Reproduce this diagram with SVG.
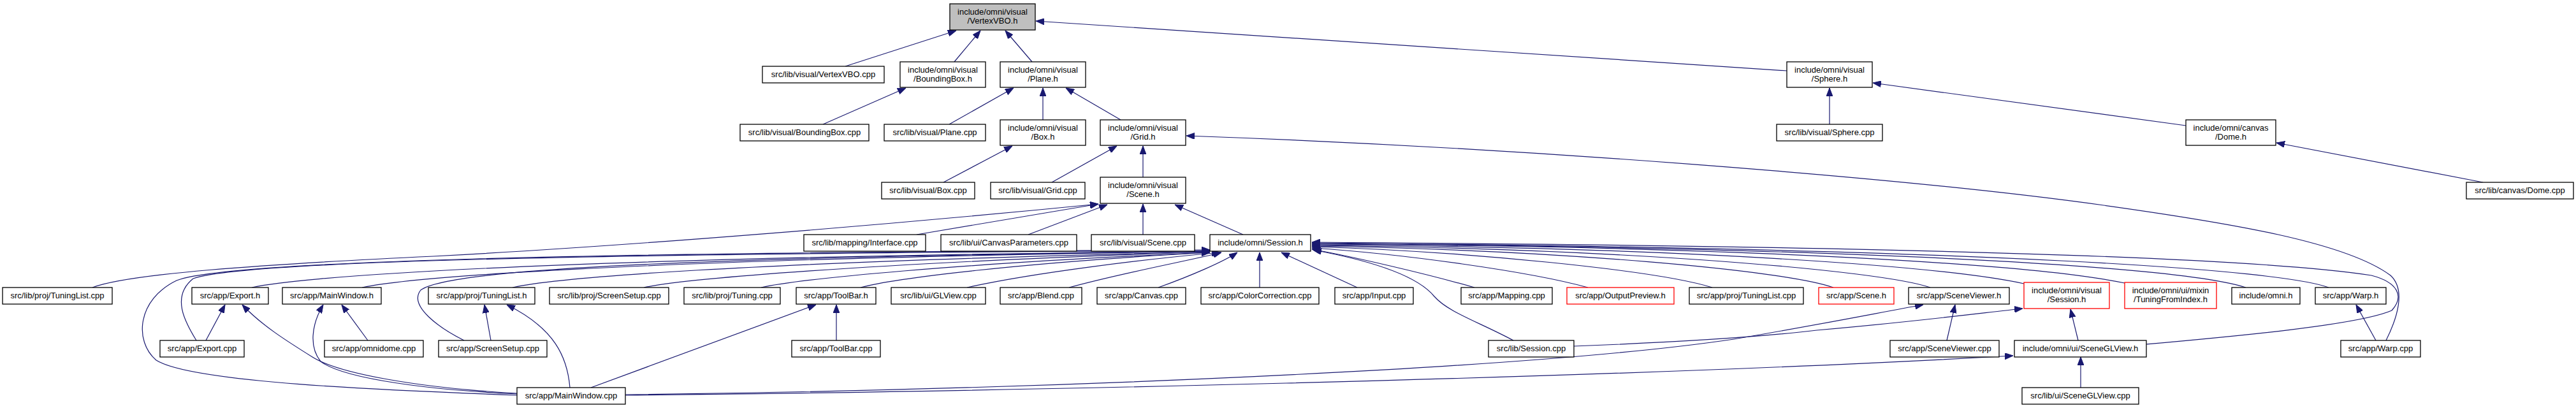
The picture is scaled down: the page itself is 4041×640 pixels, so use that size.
<svg xmlns="http://www.w3.org/2000/svg" width="4041" height="640" viewBox="0 0 4041 640">
<style>
.n rect{fill:#fff;stroke:#000;stroke-width:1.3}
.n.root rect{fill:#bfbfbf}
.n.red rect{stroke:#ff0000}
.n text{font-family:"Liberation Sans",Arial,sans-serif;font-size:13px;fill:#000;text-anchor:middle}
.e path{fill:none;stroke:#191970;stroke-width:1.2;marker-end:url(#ah)}
</style>
<defs>
<marker id="ah" markerUnits="userSpaceOnUse" markerWidth="13" markerHeight="10" refX="13" refY="5" orient="auto">
<path d="M0,0 L13,5 L0,10 z" fill="#191970" stroke="#191970" stroke-width="1"/>
</marker>
</defs>
<rect width="4041" height="640" fill="#fff"/>
<g id="connectors" class="e">
<path d="M1326,104 L1500,48"/>
<path d="M1497,97 L1538,48"/>
<path d="M1619,97 L1577,48"/>
<path d="M2803,111 L1625,33"/>
<path d="M1291,195 L1421,138"/>
<path d="M1489,195 L1590,138"/>
<path d="M1636,188 L1636,138"/>
<path d="M1758,188 L1672,138"/>
<path d="M1480,286 L1588,229"/>
<path d="M1650,286 L1752,229"/>
<path d="M1793,278 L1793,229"/>
<path d="M2870,195 L2870,138"/>
<path d="M3429,197 L2938,130"/>
<path d="M3895,286 L3571,224"/>
<path d="M3743,534 C3760,500 3775,455 3750,432 C3680,380 3500,350 3300,322 C3000,280 2400,232 1861,213"/>
<path d="M1438,368 L1723,320"/>
<path d="M145,451 C200,430 400,415 680,402 C1000,385 1400,352 1723,320"/>
<path d="M1613,368 L1737,321"/>
<path d="M1793,368 L1793,320"/>
<path d="M1950,368 L1843,321"/>
<path d="M395,451 C460,436 800,405 1898,394"/>
<path d="M568,451 C640,436 950,408 1898,394"/>
<path d="M804,451 C870,436 1150,412 1898,395"/>
<path d="M1010,451 C1070,438 1350,413 1898,395"/>
<path d="M1194,451 C1250,438 1500,413 1898,396"/>
<path d="M1350,451 C1400,437 1600,412 1898,396"/>
<path d="M1517,451 C1620,428 1800,406 1914,396"/>
<path d="M1677,451 C1760,428 1870,408 1916,396"/>
<path d="M1817,451 C1870,432 1920,410 1941,396"/>
<path d="M1976,451 L1976,396"/>
<path d="M2129,451 L2010,396"/>
<path d="M2313,451 C2240,430 2120,402 2058,391"/>
<path d="M2491,451 C2400,426 2200,398 2058,389"/>
<path d="M2686,451 C2600,424 2300,394 2058,387"/>
<path d="M2876,451 C2800,424 2450,392 2058,386"/>
<path d="M3028,451 C2950,424 2550,390 2058,385"/>
<path d="M3175,445 C3050,418 2650,388 2058,384"/>
<path d="M3333,444 C3200,416 2750,386 2058,383"/>
<path d="M3523,451 C3440,424 3050,390 2058,382"/>
<path d="M3653,451 C3580,424 3150,390 2058,381"/>
<path d="M3367,540 C3500,528 3700,510 3752,487 C3772,465 3762,443 3720,432 C3500,398 2800,385 2058,380"/>
<path d="M2374,534 C2320,505 2272,490 2250,465 C2220,428 2130,405 2060,392"/>
<path d="M308,534 C290,505 268,465 303,437 C380,410 900,398 1898,393"/>
<path d="M811,620 C600,612 300,600 245,565 C210,535 215,470 277,440 C350,410 900,396 1898,392"/>
<path d="M728,534 C690,515 640,480 660,455 C700,425 1000,405 1898,394"/>
<path d="M811,618 C680,612 540,595 503,567 C485,545 488,510 507,478"/>
<path d="M811,617 C650,608 530,585 490,560 C450,535 410,510 380,478"/>
<path d="M894,608 C890,560 870,515 795,478"/>
<path d="M770,534 L760,478"/>
<path d="M323,534 L353,478"/>
<path d="M577,534 L536,478"/>
<path d="M927,608 L1280,478"/>
<path d="M1312,534 L1312,478"/>
<path d="M981,620 C1500,615 2500,595 3158,558"/>
<path d="M981,619 C1600,612 2400,580 2720,532 C2850,510 2950,490 3017,478"/>
<path d="M2469,543 C2600,538 2750,530 2850,518 C3000,505 3100,492 3173,484"/>
<path d="M3054,534 L3067,478"/>
<path d="M3260,534 L3248,485"/>
<path d="M3264,608 L3264,560"/>
<path d="M3727,534 L3696,478"/>
</g>
<g id="n0" class="n root"><rect x="1490" y="6" width="134" height="41"/><text x="1557" y="23">include/omni/visual</text><text x="1557" y="37">/VertexVBO.h</text></g>
<g id="n1" class="n"><rect x="1196" y="104" width="191" height="26"/><text x="1291.5" y="121">src/lib/visual/VertexVBO.cpp</text></g>
<g id="n2" class="n"><rect x="1412" y="97" width="134" height="40"/><text x="1479" y="114">include/omni/visual</text><text x="1479" y="128">/BoundingBox.h</text></g>
<g id="n3" class="n"><rect x="1569" y="97" width="134" height="40"/><text x="1636" y="114">include/omni/visual</text><text x="1636" y="128">/Plane.h</text></g>
<g id="n4" class="n"><rect x="2803" y="97" width="134" height="40"/><text x="2870" y="114">include/omni/visual</text><text x="2870" y="128">/Sphere.h</text></g>
<g id="n5" class="n"><rect x="1161" y="195" width="202" height="26"/><text x="1262" y="212">src/lib/visual/BoundingBox.cpp</text></g>
<g id="n6" class="n"><rect x="1387" y="195" width="159" height="26"/><text x="1466.5" y="212">src/lib/visual/Plane.cpp</text></g>
<g id="n7" class="n"><rect x="1569" y="188" width="134" height="40"/><text x="1636" y="205">include/omni/visual</text><text x="1636" y="219">/Box.h</text></g>
<g id="n8" class="n"><rect x="1726" y="188" width="134" height="40"/><text x="1793" y="205">include/omni/visual</text><text x="1793" y="219">/Grid.h</text></g>
<g id="n9" class="n"><rect x="2787" y="195" width="166" height="26"/><text x="2870" y="212">src/lib/visual/Sphere.cpp</text></g>
<g id="n10" class="n"><rect x="3429" y="188" width="141" height="40"/><text x="3499.5" y="205">include/omni/canvas</text><text x="3499.5" y="219">/Dome.h</text></g>
<g id="n11" class="n"><rect x="1383" y="286" width="146" height="26"/><text x="1456" y="303">src/lib/visual/Box.cpp</text></g>
<g id="n12" class="n"><rect x="1554" y="286" width="148" height="26"/><text x="1628" y="303">src/lib/visual/Grid.cpp</text></g>
<g id="n13" class="n"><rect x="1726" y="278" width="134" height="41"/><text x="1793" y="295">include/omni/visual</text><text x="1793" y="309">/Scene.h</text></g>
<g id="n14" class="n"><rect x="3869" y="286" width="168" height="26"/><text x="3953" y="303">src/lib/canvas/Dome.cpp</text></g>
<g id="n15" class="n"><rect x="1261" y="368" width="191" height="26"/><text x="1356.5" y="385">src/lib/mapping/Interface.cpp</text></g>
<g id="n16" class="n"><rect x="1476" y="368" width="213" height="26"/><text x="1582.5" y="385">src/lib/ui/CanvasParameters.cpp</text></g>
<g id="n17" class="n"><rect x="1712" y="368" width="162" height="26"/><text x="1793" y="385">src/lib/visual/Scene.cpp</text></g>
<g id="n18" class="n"><rect x="1898" y="368" width="158" height="26"/><text x="1977" y="385">include/omni/Session.h</text></g>
<g id="n19" class="n"><rect x="4" y="451" width="172" height="26"/><text x="90" y="468">src/lib/proj/TuningList.cpp</text></g>
<g id="n20" class="n"><rect x="301" y="451" width="120" height="26"/><text x="361" y="468">src/app/Export.h</text></g>
<g id="n21" class="n"><rect x="443" y="451" width="155" height="26"/><text x="520.5" y="468">src/app/MainWindow.h</text></g>
<g id="n22" class="n"><rect x="672" y="451" width="167" height="26"/><text x="755.5" y="468">src/app/proj/TuningList.h</text></g>
<g id="n23" class="n"><rect x="862" y="451" width="187" height="26"/><text x="955.5" y="468">src/lib/proj/ScreenSetup.cpp</text></g>
<g id="n24" class="n"><rect x="1073" y="451" width="151" height="26"/><text x="1148.5" y="468">src/lib/proj/Tuning.cpp</text></g>
<g id="n25" class="n"><rect x="1249" y="451" width="125" height="26"/><text x="1311.5" y="468">src/app/ToolBar.h</text></g>
<g id="n26" class="n"><rect x="1398" y="451" width="148" height="26"/><text x="1472" y="468">src/lib/ui/GLView.cpp</text></g>
<g id="n27" class="n"><rect x="1569" y="451" width="128" height="26"/><text x="1633" y="468">src/app/Blend.cpp</text></g>
<g id="n28" class="n"><rect x="1721" y="451" width="139" height="26"/><text x="1790.5" y="468">src/app/Canvas.cpp</text></g>
<g id="n29" class="n"><rect x="1884" y="451" width="185" height="26"/><text x="1976.5" y="468">src/app/ColorCorrection.cpp</text></g>
<g id="n30" class="n"><rect x="2094" y="451" width="123" height="26"/><text x="2155.5" y="468">src/app/Input.cpp</text></g>
<g id="n31" class="n"><rect x="2292" y="451" width="143" height="26"/><text x="2363.5" y="468">src/app/Mapping.cpp</text></g>
<g id="n32" class="n red"><rect x="2458" y="451" width="168" height="26"/><text x="2542" y="468">src/app/OutputPreview.h</text></g>
<g id="n33" class="n"><rect x="2650" y="451" width="179" height="26"/><text x="2739.5" y="468">src/app/proj/TuningList.cpp</text></g>
<g id="n34" class="n red"><rect x="2853" y="451" width="118" height="26"/><text x="2912" y="468">src/app/Scene.h</text></g>
<g id="n35" class="n"><rect x="2994" y="451" width="158" height="26"/><text x="3073" y="468">src/app/SceneViewer.h</text></g>
<g id="n36" class="n red"><rect x="3175" y="443" width="134" height="41"/><text x="3242" y="460">include/omni/visual</text><text x="3242" y="474">/Session.h</text></g>
<g id="n37" class="n red"><rect x="3333" y="443" width="144" height="41"/><text x="3405" y="460">include/omni/ui/mixin</text><text x="3405" y="474">/TuningFromIndex.h</text></g>
<g id="n38" class="n"><rect x="3501" y="451" width="107" height="26"/><text x="3554.5" y="468">include/omni.h</text></g>
<g id="n39" class="n"><rect x="3632" y="451" width="111" height="26"/><text x="3687.5" y="468">src/app/Warp.h</text></g>
<g id="n40" class="n"><rect x="251" y="534" width="132" height="26"/><text x="317" y="551">src/app/Export.cpp</text></g>
<g id="n41" class="n"><rect x="509" y="534" width="155" height="26"/><text x="586.5" y="551">src/app/omnidome.cpp</text></g>
<g id="n42" class="n"><rect x="688" y="534" width="170" height="26"/><text x="773" y="551">src/app/ScreenSetup.cpp</text></g>
<g id="n43" class="n"><rect x="1242" y="534" width="139" height="26"/><text x="1311.5" y="551">src/app/ToolBar.cpp</text></g>
<g id="n44" class="n"><rect x="2335" y="534" width="134" height="26"/><text x="2402" y="551">src/lib/Session.cpp</text></g>
<g id="n45" class="n"><rect x="2965" y="534" width="171" height="26"/><text x="3050.5" y="551">src/app/SceneViewer.cpp</text></g>
<g id="n46" class="n"><rect x="3160" y="534" width="207" height="26"/><text x="3263.5" y="551">include/omni/ui/SceneGLView.h</text></g>
<g id="n47" class="n"><rect x="3672" y="534" width="125" height="26"/><text x="3734.5" y="551">src/app/Warp.cpp</text></g>
<g id="n48" class="n"><rect x="811" y="608" width="170" height="26"/><text x="896" y="625">src/app/MainWindow.cpp</text></g>
<g id="n49" class="n"><rect x="3172" y="608" width="183" height="26"/><text x="3263.5" y="625">src/lib/ui/SceneGLView.cpp</text></g>
</svg>
